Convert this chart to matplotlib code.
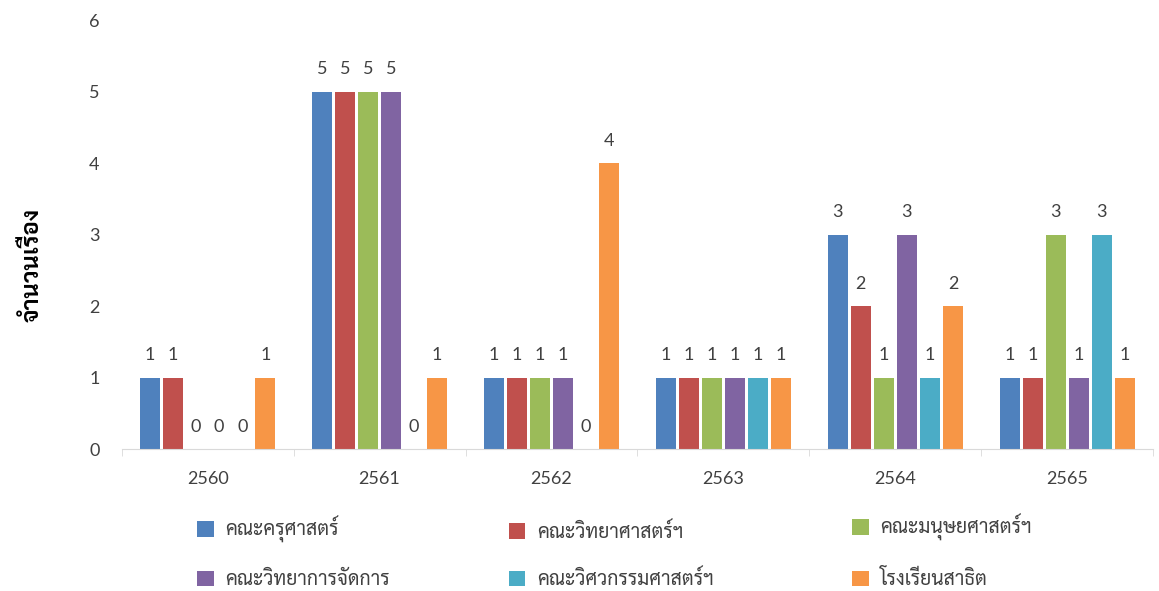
import matplotlib
matplotlib.use('Agg')
import matplotlib.pyplot as plt
import numpy as np

years = ['2560', '2561', '2562', '2563', '2564', '2565']
faculties = ['คณะครุศาสตร์', 'คณะวิทยาศาสตร์ฯ', 'คณะมนุษยศาสตร์ฯ',
             'คณะวิทยาการจัดการ', 'คณะวิศวกรรมศาสตร์ฯ', 'โรงเรียนสาธิต']
counts = [
    [1, 5, 1, 1, 3, 1],
    [1, 5, 1, 1, 2, 1],
    [0, 5, 1, 1, 1, 3],
    [0, 5, 1, 1, 3, 1],
    [0, 0, 0, 1, 1, 3],
    [1, 1, 4, 1, 2, 1],
]
colors = ['#4F81BD', '#C0504D', '#9BBB59', '#8064A2', '#4BACC6', '#F79646']

# Sarabun has the Thai glyphs, Lato is close to the Calibri digits
plt.rcParams['font.family'] = ['Sarabun', 'DejaVu Sans']
num_font = ['Lato', 'DejaVu Sans']
grey = '#404040'

fig = plt.figure(figsize=(11.59, 5.91), dpi=100)
ax = fig.add_axes([0.105, 0.240, 0.890, 0.726])

x = np.arange(len(years))
step = 0.134
width = 0.117
for i, (name, vals) in enumerate(zip(faculties, counts)):
    pos = x + (i - 2.5) * step
    ax.bar(pos, vals, width, color=colors[i], label=name)
    for xp, v in zip(pos, vals):
        ax.text(xp, v + 0.2, str(v), ha='center', va='bottom',
                fontsize=13, color=grey, family=num_font)

ax.set_xlim(-0.5, len(years) - 0.5)
ax.set_ylim(0, 6)
ax.set_yticks(range(7))
ax.set_xticks(x)
ax.set_xticklabels(years)
ax.set_xticks(np.arange(-0.5, len(years)), minor=True)
ax.tick_params(axis='x', which='major', length=0, pad=16, labelsize=13, labelcolor=grey)
ax.tick_params(axis='x', which='minor', length=5, color='#d9d9d9')
ax.tick_params(axis='y', length=0, pad=16, labelsize=13, labelcolor=grey)
for lab in ax.get_xticklabels() + ax.get_yticklabels():
    lab.set_family(num_font)
for s in ['top', 'right', 'left']:
    ax.spines[s].set_visible(False)
ax.spines['bottom'].set_color('#d9d9d9')

ax.set_ylabel('จำนวนเรื่อง', fontsize=17, fontweight='bold', va='center')
ax.yaxis.set_label_coords(-0.087, 0.43)

# three one-column legends so each column sits where the reference has it
handles, labels = ax.get_legend_handles_labels()
col_x = [0.155, 0.424, 0.720]
for c in range(3):
    fig.legend([handles[c], handles[c + 3]], [labels[c], labels[c + 3]],
               loc='lower left', bbox_to_anchor=(col_x[c], -0.027),
               frameon=False, fontsize=14, handlelength=0.85, handleheight=0.85,
               handletextpad=0.6, labelspacing=1.45, labelcolor=grey)

fig.savefig('out.png', dpi=100)
